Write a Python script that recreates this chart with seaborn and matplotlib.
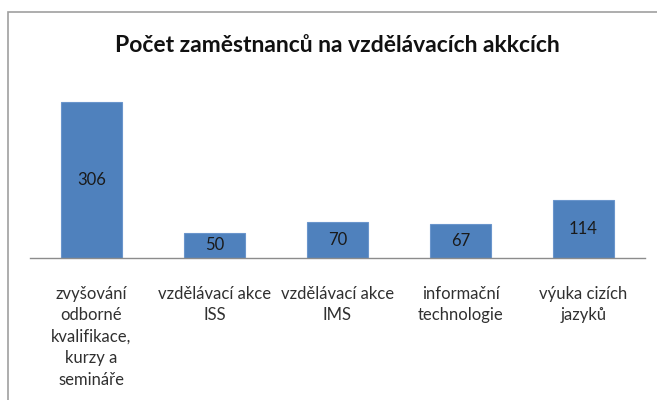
import matplotlib
matplotlib.use("Agg")
import matplotlib.pyplot as plt
import seaborn as sns
import pandas as pd
from matplotlib.patches import Rectangle

title = "Počet zaměstnanců na vzdělávacích akkcích"
categories = ["zvyšování\nodborné\nkvalifikace,\nkurzy a\nsemináře",
              "vzdělávací akce\nISS",
              "vzdělávací akce\nIMS",
              "informační\ntechnologie",
              "výuka cizích\njazyků"]
values = [306, 50, 70, 67, 114]

sns.set_theme(style="white")
plt.rcParams['font.family'] = ['Lato', 'DejaVu Sans']

W, H = 657, 400
fig = plt.figure(figsize=(W/100, H/100), dpi=100)
ax = fig.add_axes([30/W, (H-258)/H, 615/W, 178/H])

df = pd.DataFrame({"cat": categories, "val": values})
sns.barplot(data=df, x="cat", y="val", color="#4F81BD", width=0.5,
            saturation=1, edgecolor="#6A95CC", linewidth=0.8, ax=ax)
ax.set_ylim(0, 350)
ax.set_xlim(-0.5, 4.5)
for s in ["top", "right", "left"]:
    ax.spines[s].set_visible(False)
ax.spines["bottom"].set_color("#8C8C8C")
ax.spines["bottom"].set_linewidth(1.0)
ax.set_yticks([])
ax.set_xlabel("")
ax.set_ylabel("")
ax.tick_params(axis="x", length=0, pad=20, labelsize=12, colors="#303030")
for lbl in ax.get_xticklabels():
    lbl.set_linespacing(1.42)
    lbl.set_verticalalignment("top")

for i, v in enumerate(values):
    ax.text(i, v/2, str(v), ha="center", va="center", fontsize=12, color="#1a1a1a")

fig.text(337/W, 1-45/H, title, ha="center", va="center", fontsize=16.5,
         fontweight="bold", color="#111111")

fig.patches.append(Rectangle((8/W, -0.1), 1.2, 1-12/H+0.1, transform=fig.transFigure,
                             fill=False, edgecolor="#A0A0A0", linewidth=1.2))

fig.savefig("out.png", dpi=100)
